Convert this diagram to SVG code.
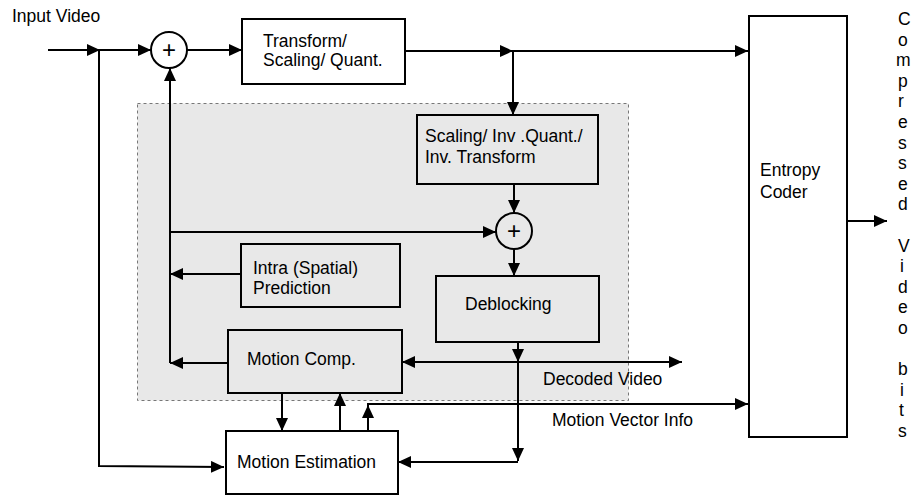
<svg xmlns="http://www.w3.org/2000/svg" width="917" height="500" viewBox="0 0 917 500">
<style>
text{font-family:"Liberation Sans",Arial,sans-serif;font-size:17.5px;fill:#000}
.box{fill:none;stroke:#000;stroke-width:2}
.wbox{fill:#fff;stroke:#000;stroke-width:2}
.ln{fill:none;stroke:#000;stroke-width:2}
.arr{marker-end:url(#ah)}
.v{font-size:17px}
.plus{font-size:24px}
</style>
<defs>
<marker id="ah" markerUnits="userSpaceOnUse" markerWidth="14" markerHeight="12" refX="13" refY="6" orient="auto">
<path d="M0,0 L13,6 L0,12 z" fill="#000"/>
</marker>
<marker id="as" markerUnits="userSpaceOnUse" markerWidth="14" markerHeight="12" refX="0" refY="6" orient="auto">
<path d="M13,0 L0,6 L13,12 z" fill="#000"/>
</marker>
</defs>
<rect x="0" y="0" width="917" height="500" fill="#fff"/>
<g id="decoder-region">
<rect x="137.5" y="103.5" width="491" height="297" fill="#e8e8e8" stroke="#777" stroke-width="1" stroke-dasharray="3 3"/>
</g>
<text x="12" y="22">Input Video</text>
<g id="connectors">
<line class="ln arr" x1="48" y1="50" x2="100" y2="50"/>
<line class="ln arr" x1="100" y1="50" x2="151" y2="50"/>
<polyline class="ln arr" points="99,50 99,466 224,467"/>
<line class="ln arr" x1="187" y1="50" x2="242" y2="50"/>
<line class="ln arr" x1="405" y1="51" x2="513" y2="51"/>
<line class="ln arr" x1="513" y1="51" x2="748" y2="51"/>
<line class="ln arr" x1="513" y1="51" x2="513" y2="115"/>
<line class="ln arr" x1="514" y1="184" x2="514" y2="213"/>
<line class="ln arr" x1="170" y1="363" x2="170" y2="68"/>
<line class="ln arr" x1="170" y1="232" x2="496" y2="232" stroke="#333"/>
<line class="ln arr" x1="514" y1="249" x2="514" y2="276"/>
<line class="ln arr" x1="241" y1="274" x2="170" y2="274"/>
<line class="ln arr" x1="228" y1="363" x2="170" y2="363"/>
<line class="ln arr" x1="518" y1="342" x2="518" y2="362"/>
<line class="ln arr" x1="518" y1="362" x2="518" y2="461"/>
<line class="ln arr" x1="518" y1="462" x2="398" y2="462"/>
<line class="ln arr" x1="402" y1="362" x2="682" y2="362" style="marker-start:url(#as)"/>
<line class="ln arr" x1="282" y1="393" x2="282" y2="431"/>
<line class="ln arr" x1="340" y1="431" x2="340" y2="393"/>
<line class="ln arr" x1="368" y1="431" x2="368" y2="405"/>
<polyline class="ln arr" points="368,405 368,404 748,404"/>
<line class="ln arr" x1="847" y1="221" x2="887" y2="221"/>
</g>
<g id="sum1">
<circle cx="169" cy="50" r="18" class="wbox"/>
<text x="169" y="58" text-anchor="middle" class="plus">+</text>
</g>
<g id="transform">
<rect x="242" y="19" width="163" height="65" class="wbox"/>
<text x="263" y="47">Transform/</text>
<text x="263" y="66">Scaling/ Quant.</text>
</g>
<g id="inv-transform">
<rect x="417" y="115" width="181" height="69" class="box"/>
<text x="425" y="142">Scaling/ Inv .Quant./</text>
<text x="425" y="163">Inv. Transform</text>
</g>
<g id="sum2">
<circle cx="514" cy="231" r="18" class="box" fill="#e8e8e8"/>
<text x="514" y="239" text-anchor="middle" class="plus">+</text>
</g>
<g id="intra">
<rect x="241" y="244" width="159" height="63" class="box"/>
<text x="253" y="274">Intra (Spatial)</text>
<text x="253" y="294">Prediction</text>
</g>
<g id="deblocking">
<rect x="436" y="276" width="163" height="66" class="box"/>
<text x="465" y="310">Deblocking</text>
</g>
<g id="motion-comp">
<rect x="228" y="330" width="174" height="63" class="box"/>
<text x="247" y="365">Motion Comp.</text>
</g>
<g id="motion-est">
<rect x="226" y="431" width="172" height="63" class="wbox"/>
<text x="237" y="468">Motion Estimation</text>
</g>
<g id="entropy">
<rect x="749" y="16" width="98" height="421" class="wbox"/>
<text x="760" y="176">Entropy</text>
<text x="760" y="198">Coder</text>
</g>
<text x="543" y="385">Decoded Video</text>
<text x="552" y="426">Motion Vector Info</text>
<g id="output-label" class="v">
<text x="898" y="25">C</text>
<text x="898" y="45.6">o</text>
<text x="896" y="66.2">m</text>
<text x="898" y="86.8">p</text>
<text x="898" y="107.4">r</text>
<text x="898" y="128">e</text>
<text x="898" y="148.6">s</text>
<text x="898" y="169.2">s</text>
<text x="898" y="189.8">e</text>
<text x="898" y="210.4">d</text>
<text x="898" y="251.6">V</text>
<text x="900" y="272.2">i</text>
<text x="898" y="292.8">d</text>
<text x="898" y="313.4">e</text>
<text x="898" y="334">o</text>
<text x="898" y="375.2">b</text>
<text x="900" y="395.8">i</text>
<text x="899" y="416.4">t</text>
<text x="898" y="437">s</text>
</g>
</svg>
